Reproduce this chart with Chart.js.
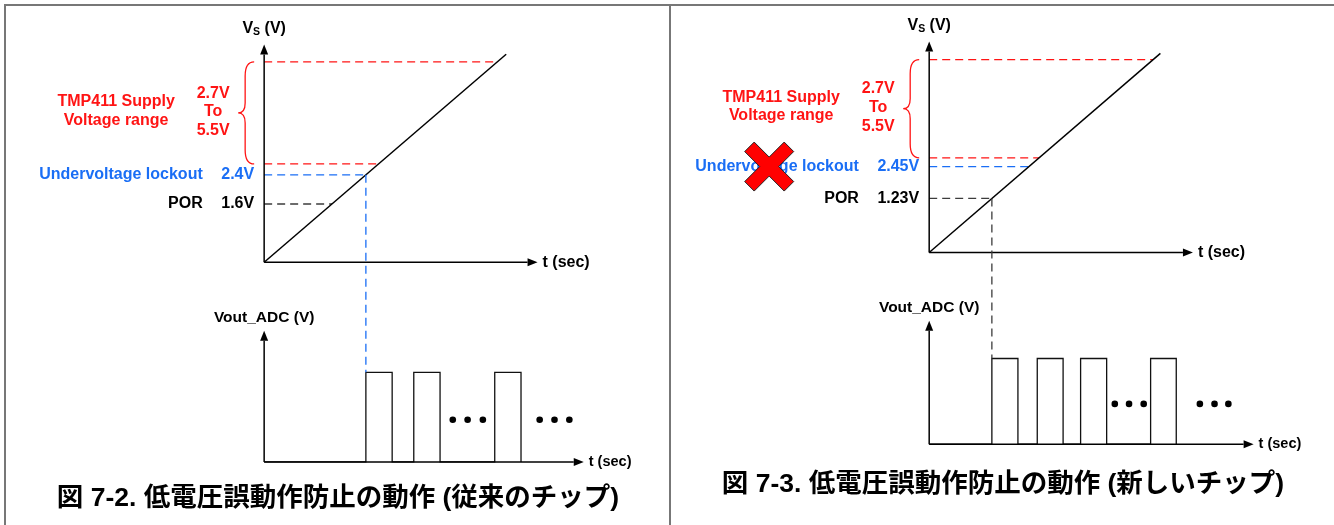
<!DOCTYPE html>
<html>
<head>
  <meta charset="utf-8">
  <title>低電圧誤動作防止の動作</title>
  <script src="https://cdn.jsdelivr.net/npm/chart.js"></script>
  <style>
    body {
      margin: 0;
      background: #fff;
    }
    #wrap {
      position: relative;
      width: 1334px;
      height: 525px;
      overflow: hidden;
    }
    .frame { position: absolute; background: #777; }
    canvas { position: absolute; top: 0; }
    #chartA { left: 0; }
    #chartB { left: 670px; }
    .caption {
      position: absolute;
      font: bold 26.5px "Liberation Sans", "Noto Sans CJK JP", sans-serif;
      white-space: nowrap;
      transform: translate(-50%, -50%);
      color: #000;
    }
  </style>
</head>
<body>
  <div id="wrap">
    <div class="frame" style="left:4px; top:4px; width:1330px; height:2px;"></div>
    <div class="frame" style="left:4px; top:4px; width:2px; height:521px;"></div>
    <div class="frame" style="left:669px; top:4px; width:2px; height:521px;"></div>
    <canvas id="chartA" width="669" height="525"></canvas>
    <canvas id="chartB" width="664" height="525"></canvas>
    <div class="caption" style="left:338px; top:494px;">図 7-2. 低電圧誤動作防止の動作 (従来のチップ)</div>
    <div class="caption" style="left:1003px; top:480px;">図 7-3. 低電圧誤動作防止の動作 (新しいチップ)</div>
  </div>

  <script>
    // ---- 図 7-2: legacy chip ----
    const supplyA = [2.7, 5.5];            // TMP411 supply range (V)
    const uvloA = 2.4;                     // undervoltage lockout (V)
    const porA = 1.6;                      // power-on reset (V)
    const levelLabelsA = ["2.4V", "1.6V"]; // uvlo, por
    const rampTopA = 5.71;                 // Vs ramp end
    const pulsesA = [[2.4, 3.02], [3.53, 4.15], [5.44, 6.06]];  // [rise, fall] in t
    const dotsA = [4.45, 4.80, 5.16, 6.50, 6.85, 7.20];

    // ---- 図 7-3: new chip ----
    const supplyB = [2.7, 5.5];
    const uvloB = 2.45;
    const porB = 1.54;                      // POR line as drawn on the schematic axis
    const levelLabelsB = ["2.45V", "1.23V"];
    const rampTopB = 5.68;
    const pulsesB = [[1.54, 2.18], [2.655, 3.29], [3.72, 4.36], [5.44, 6.07]];
    const dotsB = [4.56, 4.91, 5.27, 6.65, 7.01, 7.35];

    const dotLevel = 0.47;   // "..." height in pulse units

    const RED = "#ff1414";
    const BLUE = "#1a6ef5";
    const GREY = "#3c3c3c";
    const FONT = '"Liberation Sans", Arial, sans-serif';
    const LABEL = "bold 16px " + FONT;

    function xRange(originPx, pxPerUnit, widthPx) {
      const min = -originPx / pxPerUnit;
      return { min: min, max: min + widthPx / pxPerUnit };
    }
    function yRange(originPx, pxPerUnit, heightPx) {
      const max = originPx / pxPerUnit;
      return { min: max - heightPx / pxPerUnit, max: max };
    }

    function pulseTrace(pulses) {
      const pts = [{ x: 0, y: 0 }];
      pulses.forEach(([r, f]) => {
        pts.push({ x: r, y: 0 }, { x: r, y: 1 }, { x: f, y: 1 }, { x: f, y: 0 });
      });
      return pts;
    }

    function arrow(ctx, x1, y1, x2, y2) {
      const a = Math.atan2(y2 - y1, x2 - x1);
      const len = 10, half = 4;
      const bx = x2 - len * Math.cos(a), by = y2 - len * Math.sin(a);
      ctx.beginPath();
      ctx.moveTo(x1, y1);
      ctx.lineTo(bx, by);
      ctx.stroke();
      ctx.beginPath();
      ctx.moveTo(x2, y2);
      ctx.lineTo(bx + half * Math.sin(a), by - half * Math.cos(a));
      ctx.lineTo(bx - half * Math.sin(a), by + half * Math.cos(a));
      ctx.closePath();
      ctx.fill();
    }

    function text(ctx, str, x, y, align, color, font) {
      ctx.font = font || LABEL;
      ctx.fillStyle = color || "#000";
      ctx.textAlign = align;
      ctx.textBaseline = "middle";
      ctx.fillText(str, x, y);
    }

    // draws axes, arrows, brace, labels and the connector
    const diagram = {
      id: "diagram",
      afterDatasetsDraw(chart, args, opts) {
        const p = opts.panel;
        const ctx = chart.ctx;
        const { x, vs, out } = chart.scales;
        const ax = x.getPixelForValue(0);
        const vy0 = vs.getPixelForValue(0);
        const oy0 = out.getPixelForValue(0);

        ctx.save();
        ctx.strokeStyle = "#000";
        ctx.fillStyle = "#000";
        ctx.lineWidth = 1.5;
        const vTip = vs.getPixelForValue(p.vTop);
        const oTip = out.getPixelForValue(p.outTop);
        const tTip = x.getPixelForValue(p.tTop);
        const tTipB = x.getPixelForValue(p.tBottom);
        arrow(ctx, ax, vy0, tTip, vy0);
        arrow(ctx, ax, vy0, ax, vTip);
        arrow(ctx, ax, oy0, tTipB, oy0);
        arrow(ctx, ax, oy0, ax, oTip);

        // connector: ramp crossing -> first pulse
        const cx = x.getPixelForValue(p.trigger);
        ctx.strokeStyle = p.triggerColor;
        ctx.lineWidth = 1.3;
        ctx.setLineDash([8, 5]);
        ctx.beginPath();
        ctx.moveTo(cx, vs.getPixelForValue(p.trigger));
        ctx.lineTo(cx, out.getPixelForValue(1));
        ctx.stroke();
        ctx.setLineDash([]);

        // axis titles
        const sub = "bold 10.5px " + FONT;
        ctx.font = LABEL;
        const wV = ctx.measureText("V").width;
        const wR = ctx.measureText(" (V)").width;
        ctx.font = sub;
        const wS = ctx.measureText("S").width;
        let sx = ax - (wV + wS + wR) / 2;
        const ty = vTip - 16;
        text(ctx, "V", sx, ty, "left");
        text(ctx, "S", sx + wV, ty + 4, "left", "#000", sub);
        text(ctx, " (V)", sx + wV + wS, ty, "left");
        text(ctx, "t (sec)", tTip + 5, vy0, "left");
        text(ctx, "t (sec)", tTipB + 5, oy0, "left", "#000", "bold 14.5px " + FONT);
        text(ctx, "Vout_ADC (V)", ax, oTip - 13, "center", "#000", "bold 15.5px " + FONT);

        // supply range brace
        const yt = vs.getPixelForValue(p.supply[1]);
        const yb = vs.getPixelForValue(p.supply[0]);
        const ym = (yt + yb) / 2;
        const xr = ax - 10, xm = ax - 19, xt = ax - 26;
        ctx.strokeStyle = RED;
        ctx.lineWidth = 1.3;
        ctx.beginPath();
        ctx.moveTo(xr, yt);
        ctx.quadraticCurveTo(xm, yt, xm, yt + 14);
        ctx.lineTo(xm, ym - 10);
        ctx.quadraticCurveTo(xm, ym, xt, ym);
        ctx.quadraticCurveTo(xm, ym, xm, ym + 10);
        ctx.lineTo(xm, yb - 14);
        ctx.quadraticCurveTo(xm, yb, xr, yb);
        ctx.stroke();

        text(ctx, p.supply[0] + "V", ax - 51, ym - 19.8, "center", RED);
        text(ctx, "To", ax - 51, ym - 1.1, "center", RED);
        text(ctx, p.supply[1] + "V", ax - 51, ym + 17.5, "center", RED);
        text(ctx, "TMP411 Supply", ax - 148, ym - 11.3, "center", RED);
        text(ctx, "Voltage range", ax - 148, ym + 7.2, "center", RED);

        // level labels
        const rows = [
          { v: p.uvlo, name: "Undervoltage lockout", val: p.labels[0], color: BLUE },
          { v: p.por, name: "POR", val: p.labels[1], color: "#000" }
        ];
        rows.forEach(r => {
          const y = vs.getPixelForValue(r.v);
          ctx.font = LABEL;
          const w = ctx.measureText(r.val).width;
          text(ctx, r.val, ax - 10, y, "right", r.color);
          text(ctx, r.name, ax - 10 - w - 18.5, y, "right", r.color);
        });

        // red cross over the lockout label
        if (p.cross) {
          const cxx = ax - 160, cy = vs.getPixelForValue(p.uvlo);
          const s = 24.5, d = 9.5;
          const pts = [[-s, -s + d], [-s + d, -s], [0, -d], [s - d, -s], [s, -s + d], [d, 0],
                       [s, s - d], [s - d, s], [0, d], [-s + d, s], [-s, s - d], [-d, 0]];
          ctx.beginPath();
          pts.forEach(([px, py], i) => {
            if (i === 0) ctx.moveTo(cxx + px, cy + py);
            else ctx.lineTo(cxx + px, cy + py);
          });
          ctx.closePath();
          ctx.fillStyle = "#ff0000";
          ctx.fill();
          ctx.strokeStyle = "#222";
          ctx.lineWidth = 1;
          ctx.stroke();
        }
        ctx.restore();
      }
    };

    function lineSet(data, axis, color, width, dash) {
      return {
        data: data,
        yAxisID: axis,
        showLine: true,
        borderColor: color,
        borderWidth: width,
        borderDash: dash || [],
        pointRadius: 0,
        clip: false
      };
    }

    function makeDiagram(id, d, lay) {
      const levelColors = [RED, RED, BLUE, GREY];
      const levels = [d.supply[1], d.supply[0], d.uvlo, d.por];
      const datasets = [
        lineSet([{ x: 0, y: 0 }, { x: d.rampTop, y: d.rampTop }], "vs", "#000", 1.5)
      ];
      levels.forEach((lv, i) => {
        datasets.push(lineSet([{ x: 0, y: lv }, { x: lv, y: lv }], "vs", levelColors[i], 1.3, [8, 5]));
      });
      datasets.push(lineSet(pulseTrace(d.pulses), "out", "#111", 1.3));
      datasets.push({
        data: d.dots.map(t => ({ x: t, y: dotLevel })),
        yAxisID: "out",
        showLine: false,
        pointRadius: 3.3,
        pointBackgroundColor: "#000",
        pointBorderWidth: 0,
        clip: false
      });

      const canvas = document.getElementById(id);
      new Chart(canvas, {
        type: "scatter",
        data: { datasets: datasets },
        options: {
          responsive: false,
          animation: false,
          layout: { padding: 0 },
          plugins: {
            legend: { display: false },
            tooltip: { enabled: false },
            diagram: { panel: Object.assign({}, d, lay) }
          },
          scales: {
            x: Object.assign({ type: "linear", display: false }, xRange(lay.originX, lay.tPx, canvas.width)),
            y: { display: false },
            vs: Object.assign({ type: "linear", axis: "y", position: "left", display: false },
              yRange(lay.vsOriginY, lay.vPx, canvas.height)),
            out: Object.assign({ type: "linear", axis: "y", position: "left", display: false },
              yRange(lay.outOriginY, lay.outPx, canvas.height))
          }
        },
        plugins: [diagram]
      });
    }

    makeDiagram("chartA",
      { supply: supplyA, uvlo: uvloA, por: porA, labels: levelLabelsA, rampTop: rampTopA,
        pulses: pulsesA, dots: dotsA, trigger: uvloA, triggerColor: BLUE, cross: false },
      { originX: 263.3, tPx: 42.9, vsOriginY: 262.3, vPx: 37, outOriginY: 465, outPx: 91,
        tTop: 6.45, vTop: 5.98, tBottom: 7.54, outTop: 1.465 });

    makeDiagram("chartB",
      { supply: supplyB, uvlo: uvloB, por: porB, labels: levelLabelsB, rampTop: rampTopB,
        pulses: pulsesB, dots: dotsB, trigger: porB, triggerColor: GREY, cross: true },
      { originX: 258.3, tPx: 41.2, vsOriginY: 252.3, vPx: 35.6, outOriginY: 447, outPx: 87,
        tTop: 6.48, vTop: 6.02, tBottom: 7.97, outTop: 1.44 });
  </script>
</body>
</html>
